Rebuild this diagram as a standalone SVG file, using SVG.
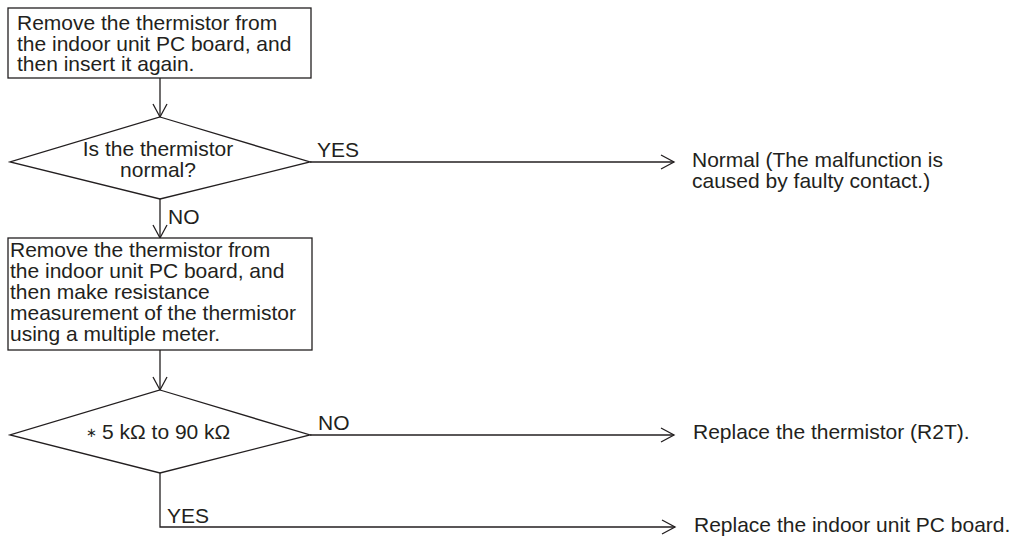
<svg xmlns="http://www.w3.org/2000/svg" width="1024" height="538" viewBox="0 0 1024 538">
  <style>
    .shape { fill: #ffffff; stroke: #231f20; stroke-width: 1.3; }
    .wire { fill: none; stroke: #231f20; stroke-width: 1.3; marker-end: url(#vhead); }
    text { font-family: "Liberation Sans", Arial, sans-serif; font-size: 21px; fill: #231f20; }
    .mid { text-anchor: middle; }
    .star { font-family: "DejaVu Sans", sans-serif; font-size: 13px; }
  </style>
  <defs>
    <marker id="vhead" markerUnits="userSpaceOnUse" markerWidth="18" markerHeight="18" refX="15" refY="8" orient="auto">
      <path d="M2,1 L15,8 L2,15" fill="none" stroke="#231f20" stroke-width="1.3"/>
    </marker>
  </defs>

  <!-- connectors -->
  <g id="connectors">
    <line class="wire" x1="160" y1="78" x2="160" y2="117"/>
    <line class="wire" x1="160" y1="199" x2="160" y2="238"/>
    <line class="wire" x1="310" y1="162" x2="674" y2="162"/>
    <line class="wire" x1="160" y1="350" x2="160" y2="390"/>
    <line class="wire" x1="310" y1="435" x2="674" y2="435"/>
    <path class="wire" d="M160,473 V527 H675"/>
    <text x="317" y="157">YES</text>
    <text x="168" y="224">NO</text>
    <text x="318" y="430">NO</text>
    <text x="167" y="523">YES</text>
  </g>

  <!-- step: reseat the thermistor -->
  <g id="reseat">
    <rect class="shape" x="8" y="8" width="303" height="70"/>
    <text x="17" y="30">Remove the thermistor from</text>
    <text x="17" y="51">the indoor unit PC board, and</text>
    <text x="17" y="71">then insert it again.</text>
  </g>

  <!-- decision: thermistor normal -->
  <g id="check-normal">
    <polygon class="shape" points="160,117 310,162 160,199 10,162"/>
    <text class="mid" x="158" y="156">Is the thermistor</text>
    <text class="mid" x="158" y="177">normal?</text>
  </g>

  <!-- result: faulty contact -->
  <g id="result-normal">
    <text x="692" y="167">Normal (The malfunction is</text>
    <text x="692" y="188">caused by faulty contact.)</text>
  </g>

  <!-- step: measure resistance -->
  <g id="measure">
    <rect class="shape" x="8" y="238" width="304" height="112"/>
    <text x="10" y="257">Remove the thermistor from</text>
    <text x="10" y="278">the indoor unit PC board, and</text>
    <text x="10" y="299">then make resistance</text>
    <text x="10" y="320">measurement of the thermistor</text>
    <text x="10" y="341">using a multiple meter.</text>
  </g>

  <!-- decision: resistance range -->
  <g id="check-range">
    <polygon class="shape" points="160,390 310,435 160,473 10,435"/>
    <text y="439"><tspan class="star" x="86" dy="-2">∗</tspan><tspan x="102" dy="2">5 kΩ to 90 kΩ</tspan></text>
  </g>

  <!-- result: replace thermistor -->
  <g id="result-thermistor">
    <text x="693" y="439">Replace the thermistor (R2T).</text>
  </g>

  <!-- result: replace PC board -->
  <g id="result-board">
    <text x="694" y="532">Replace the indoor unit PC board.</text>
  </g>
</svg>
